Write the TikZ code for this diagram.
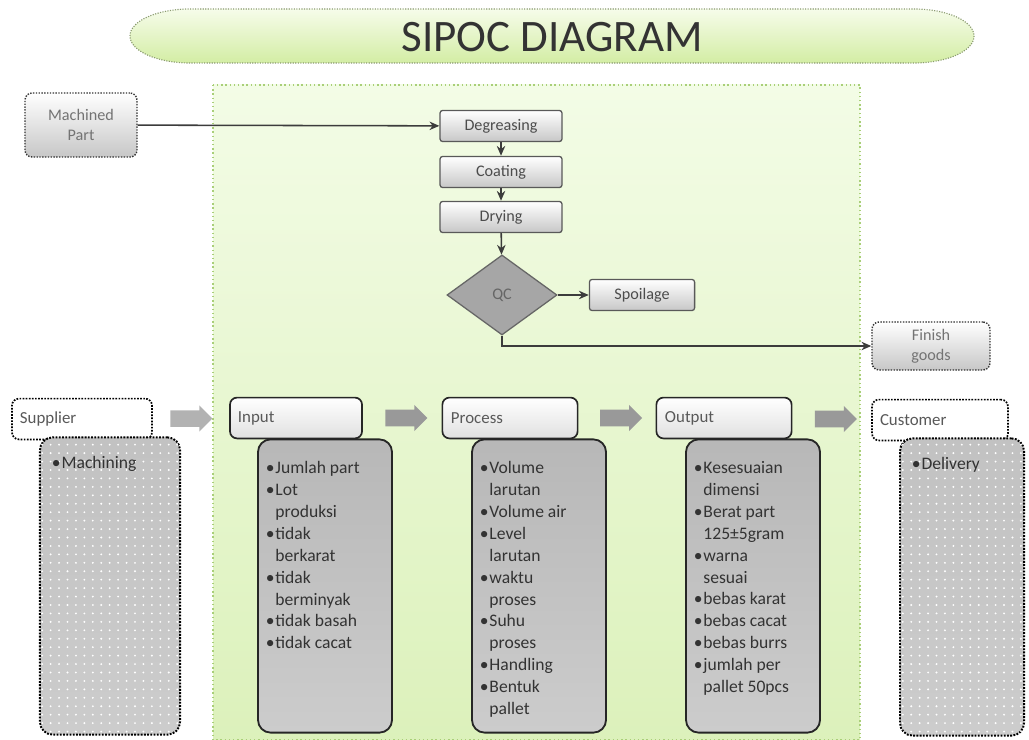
\documentclass[tikz,border=0pt]{standalone}
\usepackage{fontspec}
\setmainfont{Carlito}
\usetikzlibrary{
  shapes.geometric, shapes.arrows, arrows.meta, positioning, calc,
  patterns.meta
}
\definecolor{bannertop}{HTML}{F6FCEA}
\definecolor{bannerbot}{HTML}{D3EDA4}
\definecolor{bannerline}{HTML}{8A9A70}
\definecolor{paneltop}{HTML}{F3FCE6}
\definecolor{panelbot}{HTML}{DCF1BB}
\definecolor{panelline}{HTML}{A9CF78}
\definecolor{linkgray}{HTML}{3C3C3C}

\newcommand{\bitem}{\makebox[0.55em][l]{•}}
\newcommand{\bcont}{\hspace*{0.55em}}

\tikzset{
  stepbox/.style={rectangle, rounded corners=2pt, draw=black!65, line width=0.9pt,
    top color=white, bottom color=black!22, minimum width=3.05cm, minimum height=0.78cm,
    font=\fontsize{11.5}{13}\selectfont, text=black!70},
  sidebox/.style={rectangle, rounded corners=5pt, draw=black!80, densely dotted, line width=1pt,
    top color=white, bottom color=black!22, minimum width=2.8cm, minimum height=1.6cm,
    align=center, font=\fontsize{11.5}{14}\selectfont, text=black!55},
  qcbox/.style={diamond, draw=black!60, line width=0.9pt, fill=black!35,
    minimum width=2.75cm, minimum height=2cm, inner sep=0pt,
    font=\fontsize{11.5}{13}\selectfont, text=black!60},
  flow/.style={draw=linkgray, line width=1.1pt, -{Stealth[length=7pt, width=6pt]}},
  headbox/.style={rectangle, rounded corners=5pt, draw=black!85, line width=1.2pt,
    top color=white, bottom color=black!12, minimum height=1.02cm,
    align=left, font=\fontsize{12}{14}\selectfont, text=black!65},
  outhead/.style={headbox, draw=black, densely dotted, fill=white, top color=white, bottom color=white},
  listbox/.style={rectangle, rounded corners=9pt, draw=black!85, line width=1.3pt,
    top color=black!28, bottom color=black!20, minimum width=3.35cm, minimum height=7.33cm},
  outbody/.style={listbox, draw=black, densely dotted, line width=1.4pt,
    top color=black!24, bottom color=black!20,
    postaction={pattern={Dots[distance=6pt, radius=0.75pt]}, pattern color=white}},
  listtext/.style={anchor=north west, inner sep=0pt, align=left,
    font=\fontsize{12.5}{15.6}\selectfont, text=black!80},
  blockarrow/.style={single arrow, fill=black!40, draw=none, inner xsep=0pt, inner ysep=0.2cm,
    minimum height=1.05cm, single arrow head extend=0.12cm, single arrow head indent=0pt}
}

\begin{document}
\begin{tikzpicture}[x=0.025cm, y=-0.025cm]
  \useasboundingbox (0,0) rectangle (1029,740);

  % Title banner
  \draw[bannerline, densely dotted, line width=0.8pt, top color=bannertop, bottom color=bannerbot]
    (190,9) -- (914,9) arc[start angle=90, end angle=-90, x radius=1.5cm, y radius=0.675cm]
    -- (190,63) arc[start angle=270, end angle=90, x radius=1.5cm, y radius=0.675cm] -- cycle;
  \node[font=\fontsize{32}{36}\selectfont, text=black!80] (title) at (552,37) {SIPOC DIAGRAM};

  % Process area
  \draw[panelline, dotted, line width=1pt, top color=paneltop, bottom color=panelbot]
    (213,85) rectangle (860,740);

  % Process flow
  \node[sidebox] (mpart) at (81,125) {Machined\\Part};
  \node[stepbox] (degr) at (501,126) {Degreasing};
  \node[stepbox] (coat) at (501,172) {Coating};
  \node[stepbox] (dry) at (501,217) {Drying};
  \node[qcbox] (qc) at (502,295) {QC};
  \node[stepbox, minimum width=2.63cm] (spoil) at (642,295) {Spoilage};
  \node[sidebox, minimum width=2.95cm, minimum height=1.2cm] (fin) at (931,346) {Finish\\goods};

  \draw[flow] (mpart) -- (degr);
  \draw[flow] (degr) -- (coat);
  \draw[flow] (coat) -- (dry);
  \draw[flow] (dry) -- (qc);
  \draw[flow] (qc) -- (spoil);
  \draw[flow] (qc.south) |- (fin.west);

  % Column headers
  \node[outhead, minimum width=3.5cm, text width=3.1cm] (suphead) at (82,419) {Supplier};
  \node[headbox, minimum width=3.3cm, text width=2.9cm] (inhead) at (296,418) {Input};
  \node[headbox, minimum width=3.38cm, text width=2.95cm] (prohead) at (510,418) {Process};
  \node[headbox, minimum width=3.38cm, text width=2.95cm] (outhead) at (724,418) {Output};
  \node[outhead, minimum width=3.4cm, text width=3cm] (cushead) at (940,420) {Customer};

  % Arrows between columns
  \node[blockarrow, fill=black!30] (ar1) at ($(suphead.east)!0.45!(inhead.west)$) {};
  \node[blockarrow] (ar2) at ($(inhead.east)!0.5!(prohead.west)$) {};
  \node[blockarrow] (ar3) at ($(prohead.east)!0.5!(outhead.west)$) {};
  \node[blockarrow] (ar4) at ($(outhead.east)!0.5!(cushead.west)$) {};

  % Column bodies
  \node[outbody, minimum width=3.5cm, minimum height=7.43cm] (supbody) at (110,586) {};
  \node[listbox] (inbody) at (325,586) {};
  \node[listbox] (probody) at (539,586) {};
  \node[listbox] (outbody) at (753,586) {};
  \node[outbody, minimum width=3.1cm, minimum height=7.43cm] (cusbody) at (962,587) {};

  % Lists
  \node[listtext] (suplist) at ([xshift=9pt, yshift=-14pt]supbody.north west)
    {\bitem Machining};
  \node[listtext] (inlist) at ([xshift=6pt, yshift=-16pt]inbody.north west)
    {\bitem Jumlah part\\ \bitem Lot\\ \bcont produksi\\ \bitem tidak\\ \bcont berkarat\\
     \bitem tidak\\ \bcont berminyak\\ \bitem tidak basah\\ \bitem tidak cacat};
  \node[listtext] (prolist) at ([xshift=6pt, yshift=-16pt]probody.north west)
    {\bitem Volume\\ \bcont larutan\\ \bitem Volume air\\ \bitem Level\\ \bcont larutan\\
     \bitem waktu\\ \bcont proses\\ \bitem Suhu\\ \bcont proses\\ \bitem Handling\\
     \bitem Bentuk\\ \bcont pallet};
  \node[listtext] (outlist) at ([xshift=6pt, yshift=-16pt]outbody.north west)
    {\bitem Kesesuaian\\ \bcont dimensi\\ \bitem Berat part\\ \bcont 125±5gram\\
     \bitem warna\\ \bcont sesuai\\ \bitem bebas karat\\ \bitem bebas cacat\\
     \bitem bebas burrs\\ \bitem jumlah per\\ \bcont pallet 50pcs};
  \node[listtext] (cuslist) at ([xshift=9pt, yshift=-14pt]cusbody.north west)
    {\bitem Delivery};
\end{tikzpicture}
\end{document}
